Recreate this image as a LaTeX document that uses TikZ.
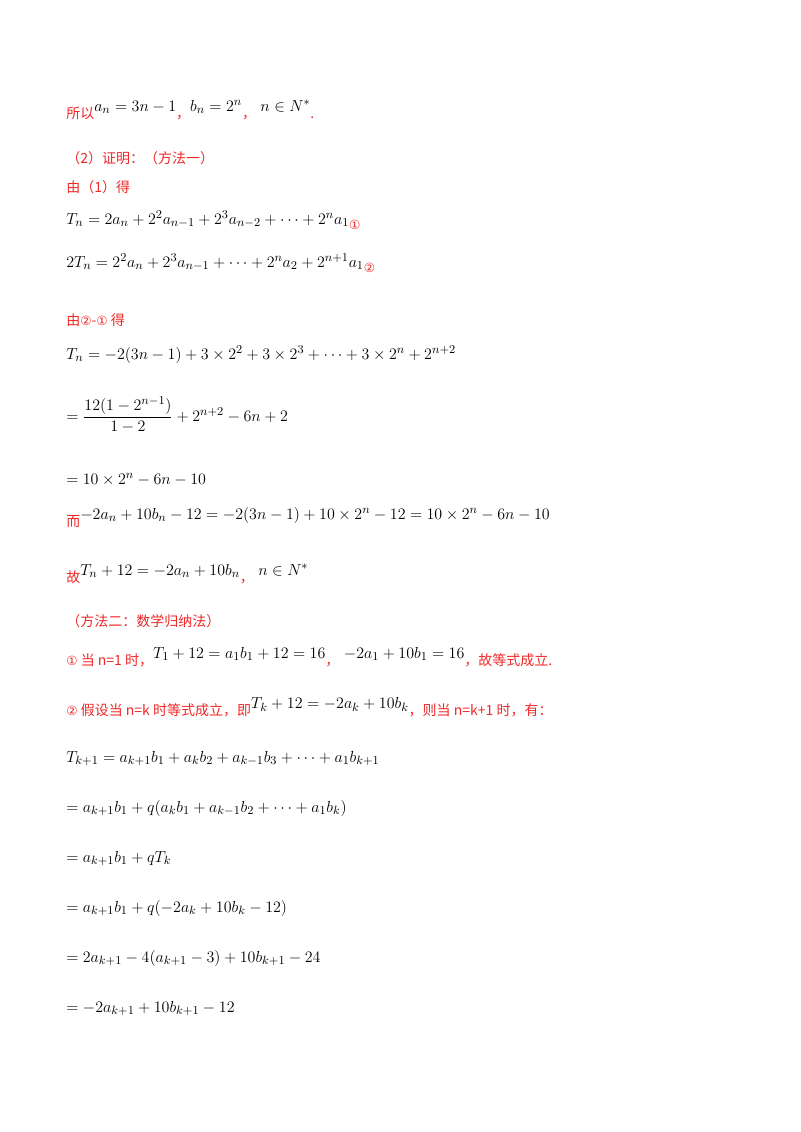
\documentclass[tikz,border=0pt]{standalone}
\usepackage{amsmath}
\usepackage{fontspec}
\setmainfont{Liberation Serif}
\newfontfamily\cjk{Noto Sans CJK SC}
\newfontfamily\dv{DejaVu Sans}
\definecolor{rd}{RGB}{240,40,40}
\newcommand{\zh}[1]{\textcolor{rd}{\cjk\fontsize{10.5pt}{12pt}\selectfont #1}}
\newcommand{\cc}[1]{\textcolor{rd}{\dv\fontsize{9.5pt}{12pt}\selectfont #1}}
\newcommand{\up}[1]{\raisebox{5pt}{#1}}
\begin{document}
\begin{tikzpicture}[x=0.75pt,y=-0.75pt,
  ln/.style={anchor=base west,inner sep=0pt,font=\fontsize{12.5pt}{15pt}\selectfont}]
\useasboundingbox (0,0) rectangle (800,1132);
\node[ln] (l1) at (66,118) {\zh{所以}\up{$a_n=3n-1$}\zh{，}\up{$b_n=2^n$}\zh{，}\up{$\;n\in N^*$}\zh{.}};
\node[ln] (l2) at (66,163) {\zh{（2）证明：（方法一）}};
\node[ln] (l3) at (66,192) {\zh{由（1）得}};
\node[ln] (l4) at (66,224) {$T_n=2a_n+2^2a_{n-1}+2^3a_{n-2}+\cdots+2^na_1$\raisebox{-4pt}{\cc{①}}};
\node[ln] (l5) at (66,267) {$2T_n=2^2a_n+2^3a_{n-1}+\cdots+2^na_2+2^{n+1}a_1$\raisebox{-4pt}{\cc{②}}};
\node[ln] (l6) at (66,325) {\zh{由}\cc{②}\zh{-}\cc{①}\zh{ 得}};
\node[ln] (l7) at (66,359) {$T_n=-2(3n-1)+3\times2^2+3\times2^3+\cdots+3\times2^n+2^{n+2}$};
\node[ln] (l8) at (66,421) {$=\dfrac{12(1-2^{n-1})}{1-2}+2^{n+2}-6n+2$};
\node[ln] (l9) at (66,484) {$=10\times2^n-6n-10$};
\node[ln] (l10) at (66,526) {\zh{而}\up{$-2a_n+10b_n-12=-2(3n-1)+10\times2^n-12=10\times2^n-6n-10$}};
\node[ln] (l11) at (66,582) {\zh{故}\up{$T_n+12=-2a_n+10b_n$}\zh{，}\up{$\;n\in N^*$}};
\node[ln] (l12) at (66,626) {\zh{（方法二：数学归纳法）}};
\node[ln] (l13) at (66,665) {\cc{①}\zh{ 当 n=1 时，}\up{$T_1+12=a_1b_1+12=16$}\zh{，}\up{$\;-2a_1+10b_1=16$}\zh{，故等式成立.}};
\node[ln] (l14) at (66,715) {\cc{②}\zh{ 假设当 n=k 时等式成立，即}\up{$T_k+12=-2a_k+10b_k$}\zh{，则当 n=k+1 时，有：}};
\node[ln] (l15) at (66,762) {$T_{k+1}=a_{k+1}b_1+a_kb_2+a_{k-1}b_3+\cdots+a_1b_{k+1}$};
\node[ln] (l16) at (66,812) {$=a_{k+1}b_1+q(a_kb_1+a_{k-1}b_2+\cdots+a_1b_k)$};
\node[ln] (l17) at (66,862) {$=a_{k+1}b_1+qT_k$};
\node[ln] (l18) at (66,912) {$=a_{k+1}b_1+q(-2a_k+10b_k-12)$};
\node[ln] (l19) at (66,962) {$=2a_{k+1}-4(a_{k+1}-3)+10b_{k+1}-24$};
\node[ln] (l20) at (66,1012) {$=-2a_{k+1}+10b_{k+1}-12$};
\end{tikzpicture}
\end{document}
